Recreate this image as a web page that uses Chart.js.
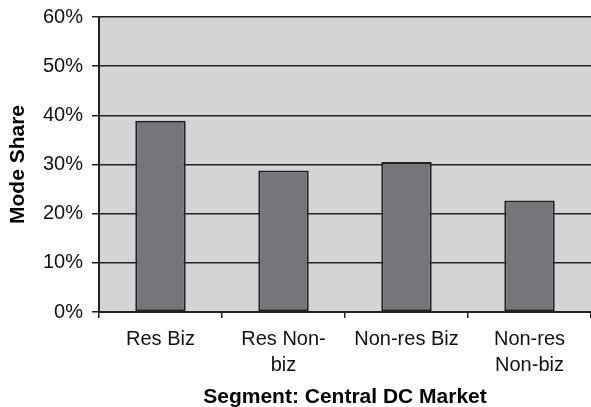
<!DOCTYPE html>
<html>
<head>
<meta charset="utf-8">
<script src="https://cdn.jsdelivr.net/npm/chart.js@4"></script>
<style>
  body { margin: 0; background: #fff; }
  #wrap { width: 591px; height: 407px; }
</style>
</head>
<body>
<div id="wrap"><canvas id="chart" width="591" height="407"></canvas></div>
<script>
// data
const segments = ["Res Biz", ["Res Non-", "biz"], "Non-res Biz", ["Non-res", "Non-biz"]];
const modeShare = [38.9, 28.8, 30.5, 22.7];
const yMin = 0, yMax = 60, yStep = 10;

const FONT = "'Liberation Sans', Arial, Helvetica, sans-serif";
const ink = "#222";

// grey plot background, painted before the grid
const plotBg = {
  id: "plotBg",
  beforeDraw(chart) {
    const { ctx, chartArea: a } = chart;
    ctx.save();
    ctx.fillStyle = "#d3d4d6";
    ctx.fillRect(a.left, a.top, a.right - a.left, a.bottom - a.top);
    ctx.restore();
  }
};

new Chart(document.getElementById("chart"), {
  type: "bar",
  data: {
    labels: segments,
    datasets: [{
      data: modeShare,
      backgroundColor: "#75767a",
      borderColor: ink,
      borderWidth: 2,
      borderSkipped: false,
      barPercentage: 0.41,
      categoryPercentage: 1
    }]
  },
  options: {
    responsive: false,
    animation: false,
    layout: { padding: { top: 17, right: 0, bottom: 0, left: 0 } },
    plugins: { legend: { display: false }, tooltip: { enabled: false } },
    scales: {
      x: {
        afterFit: s => { s.height = 95; },
        grid: { display: true, offset: true, drawOnChartArea: false, tickLength: 6, color: ink, lineWidth: 1.5 },
        border: { display: true, color: ink, width: 2 },
        ticks: { color: "#111", padding: 8, maxRotation: 0, font: { family: FONT, size: 20, lineHeight: 1.3 } },
        title: {
          display: true,
          text: "Segment: Central DC Market",
          color: "#000",
          padding: { top: 0, bottom: 0 },
          font: { family: FONT, size: 21, weight: "bold", lineHeight: 0.9 }
        }
      },
      y: {
        min: yMin,
        max: yMax,
        afterFit: s => { s.width = 99; s.paddingTop = 8; s.paddingBottom = 8; },
        grid: { color: ink, lineWidth: 1.5, tickLength: 7 },
        border: { display: true, color: ink, width: 2 },
        ticks: {
          stepSize: yStep,
          padding: 9,
          color: "#111",
          font: { family: FONT, size: 20 },
          callback: v => v + "%"
        },
        title: {
          display: true,
          text: "Mode Share",
          color: "#000",
          padding: { top: 6, bottom: 0 },
          font: { family: FONT, size: 21, weight: "bold" }
        }
      }
    }
  },
  plugins: [plotBg]
});
</script>
</body>
</html>
